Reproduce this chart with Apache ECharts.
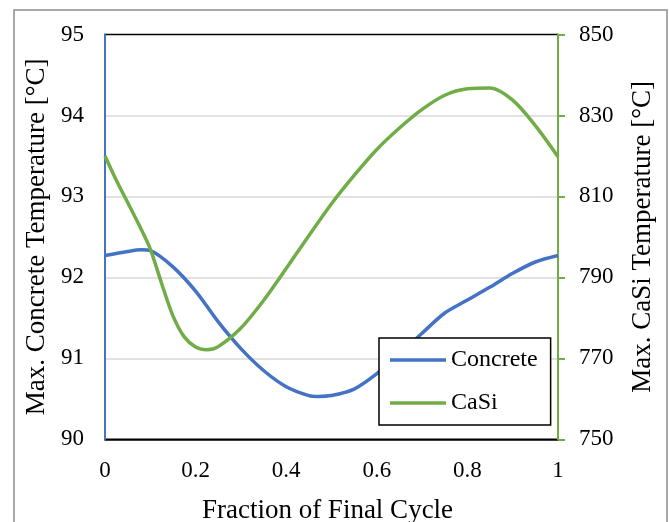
<!DOCTYPE html>
<html>
<head>
<meta charset="utf-8">
<script src="https://cdn.jsdelivr.net/npm/echarts@6/dist/echarts.min.js"></script>
<style>
  html, body { margin: 0; padding: 0; background: #fff; }
  #chart { width: 669px; height: 522px; }
</style>
</head>
<body>
<div id="chart"></div>
<script>
// Maximum temperatures over the final cycle
const seriesNames = ['Concrete', 'CaSi'];

const concreteX = [0, 0.05, 0.08, 0.10, 0.15, 0.20, 0.25, 0.30, 0.35, 0.40, 0.45, 0.47, 0.50,
                   0.55, 0.60, 0.65, 0.70, 0.75, 0.80, 0.85, 0.90, 0.95, 1.00];
const concreteY = [92.27, 92.32, 92.34, 92.33, 92.13, 91.83, 91.45, 91.12, 90.85, 90.65, 90.54, 90.53, 90.54,
                   90.62, 90.81, 91.05, 91.31, 91.56, 91.72, 91.88, 92.05, 92.19, 92.27];

const casiX = [0, 0.025, 0.05, 0.075, 0.10, 0.125, 0.15, 0.175, 0.20, 0.225, 0.25, 0.30, 0.35,
               0.40, 0.45, 0.50, 0.55, 0.60, 0.65, 0.70, 0.75, 0.80, 0.85, 0.90, 0.95, 1.00];
const casiY = [820, 814, 808.5, 803, 797, 788.5, 780.5, 775.3, 772.8, 772.1, 772.9, 777.5, 784.3,
               792.2, 800.3, 808.2, 815.2, 821.6, 826.9, 831.5, 835.0, 836.6, 836.8, 833.8, 827.5, 819.8];

// Axis ranges and tick steps
const xRange = [0, 1, 0.2];
const leftRange = [90, 95, 1];
const rightRange = [750, 850, 20];

const axisTitles = {
  x: 'Fraction of Final Cycle',
  left: 'Max. Concrete Temperature [°C]',
  right: 'Max. CaSi Temperature [°C]'
};

const BLUE = '#4472C4';
const GREEN = '#70AD47';
const FONT = 'Liberation Serif';

const pairs = (xs, ys) => xs.map((x, i) => [x, ys[i]]);

const chart = echarts.init(document.getElementById('chart'), null, { renderer: 'canvas' });

chart.setOption({
  backgroundColor: '#fff',
  animation: false,
  textStyle: { fontFamily: FONT, color: '#000' },
  graphic: [{
    type: 'rect',
    shape: { x: 14, y: 10, width: 653, height: 530 },
    style: { fill: 'none', stroke: '#8c8c8c', lineWidth: 1.5 },
    silent: true,
    z: -1
  }],
  grid: {
    left: 105, right: 111, top: 34.5, bottom: 82.7,
    containLabel: false,
    outerBoundsMode: 'none',
    show: true, borderColor: '#000', borderWidth: 1.5, backgroundColor: 'transparent'
  },
  legend: {
    orient: 'vertical',
    left: 379, top: 338,
    data: seriesNames,
    icon: 'rect',
    itemWidth: 56, itemHeight: 3.5,
    itemGap: 19,
    padding: [10, 13, 10, 11],
    backgroundColor: '#fff',
    borderColor: '#000',
    borderWidth: 1.5,
    textStyle: { fontFamily: FONT, fontSize: 24, lineHeight: 24, color: '#000' }
  },
  xAxis: {
    type: 'value',
    min: xRange[0], max: xRange[1], interval: xRange[2],
    name: axisTitles.x,
    nameLocation: 'middle',
    nameGap: 58,
    nameTextStyle: { fontFamily: FONT, fontSize: 27, color: '#000', padding: [0, 8, 0, 0] },
    axisLine: { show: true, lineStyle: { color: '#000', width: 1.5 } },
    axisTick: { show: false },
    splitLine: { show: false },
    axisLabel: { fontFamily: FONT, fontSize: 23, color: '#000', margin: 20 }
  },
  yAxis: [{
    type: 'value',
    position: 'left',
    min: leftRange[0], max: leftRange[1], interval: leftRange[2],
    name: axisTitles.left,
    nameLocation: 'middle',
    nameRotate: 90,
    nameGap: 43,
    nameTextStyle: { fontFamily: FONT, fontSize: 27, color: '#000' },
    axisLine: { show: true, lineStyle: { color: BLUE, width: 2 } },
    axisTick: { show: false },
    splitLine: { show: true, showMinLine: false, showMaxLine: false, lineStyle: { color: '#d9d9d9', width: 1.5 } },
    axisLabel: { fontFamily: FONT, fontSize: 23, color: '#000', margin: 21 },
    z: 3
  }, {
    type: 'value',
    position: 'right',
    min: rightRange[0], max: rightRange[1], interval: rightRange[2],
    name: axisTitles.right,
    nameLocation: 'middle',
    nameRotate: 90,
    nameGap: 71,
    nameTextStyle: { fontFamily: FONT, fontSize: 27, color: '#000' },
    axisLine: { show: true, lineStyle: { color: GREEN, width: 2 } },
    axisTick: { show: true, inside: false, length: 7, lineStyle: { color: GREEN, width: 2 } },
    splitLine: { show: false },
    axisLabel: { fontFamily: FONT, fontSize: 23, color: '#000', margin: 21 },
    z: 3
  }],
  series: [{
    name: seriesNames[0],
    type: 'line',
    yAxisIndex: 0,
    data: pairs(concreteX, concreteY),
    smooth: 0.3,
    showSymbol: false,
    symbol: 'none',
    itemStyle: { color: BLUE },
    lineStyle: { color: BLUE, width: 3.5 }
  }, {
    name: seriesNames[1],
    type: 'line',
    yAxisIndex: 1,
    data: pairs(casiX, casiY),
    smooth: 0.3,
    showSymbol: false,
    symbol: 'none',
    itemStyle: { color: GREEN },
    lineStyle: { color: GREEN, width: 3.5 }
  }]
});
</script>
</body>
</html>
